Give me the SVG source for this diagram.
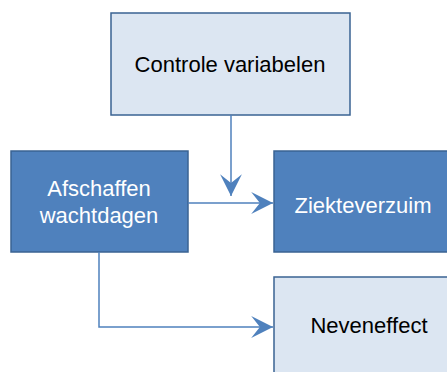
<svg xmlns="http://www.w3.org/2000/svg" width="447" height="372" viewBox="0 0 447 372">
<style>
.dark{fill:#4F81BD;stroke:#3A6393;stroke-width:1.5}
.light{fill:#DCE6F2;stroke:#3A6393;stroke-width:1.5}
.tw{font-family:"Liberation Sans",Arial,sans-serif;font-size:22px;fill:#FFFFFF;text-anchor:middle}
.tb{font-family:"Liberation Sans",Arial,sans-serif;font-size:22px;fill:#000000;text-anchor:middle}
.ln{fill:none;stroke:#4F81BD;stroke-width:1.5}
</style>
<defs>
<marker id="ah" markerUnits="userSpaceOnUse" markerWidth="24" markerHeight="24" viewBox="-21 -11 22 22" refX="0" refY="0" orient="auto">
<path d="M0,0 L-20,-10 L-12,0 L-20,10 Z" fill="#4F81BD"/>
</marker>
</defs>
<g id="controle"><rect class="light" x="111" y="13" width="239" height="102"/><text class="tb" x="230" y="72">Controle variabelen</text></g>
<g id="afschaffen"><rect class="dark" x="11" y="151" width="177" height="101"/><text class="tw" x="99" y="196">Afschaffen</text><text class="tw" x="99" y="223">wachtdagen</text></g>
<g id="ziekteverzuim"><rect class="dark" x="274" y="151" width="180" height="101"/><text class="tw" x="363" y="213">Ziekteverzuim</text></g>
<g id="neveneffect"><rect class="light" x="274" y="277" width="180" height="110"/><text class="tb" x="369" y="333">Neveneffect</text></g>
<g id="connectors">
<path class="ln" d="M231,115 V196" marker-end="url(#ah)"/>
<path class="ln" d="M188,203 H273" marker-end="url(#ah)"/>
<path class="ln" d="M99,252 V327 H273" marker-end="url(#ah)"/>
</g>
</svg>
